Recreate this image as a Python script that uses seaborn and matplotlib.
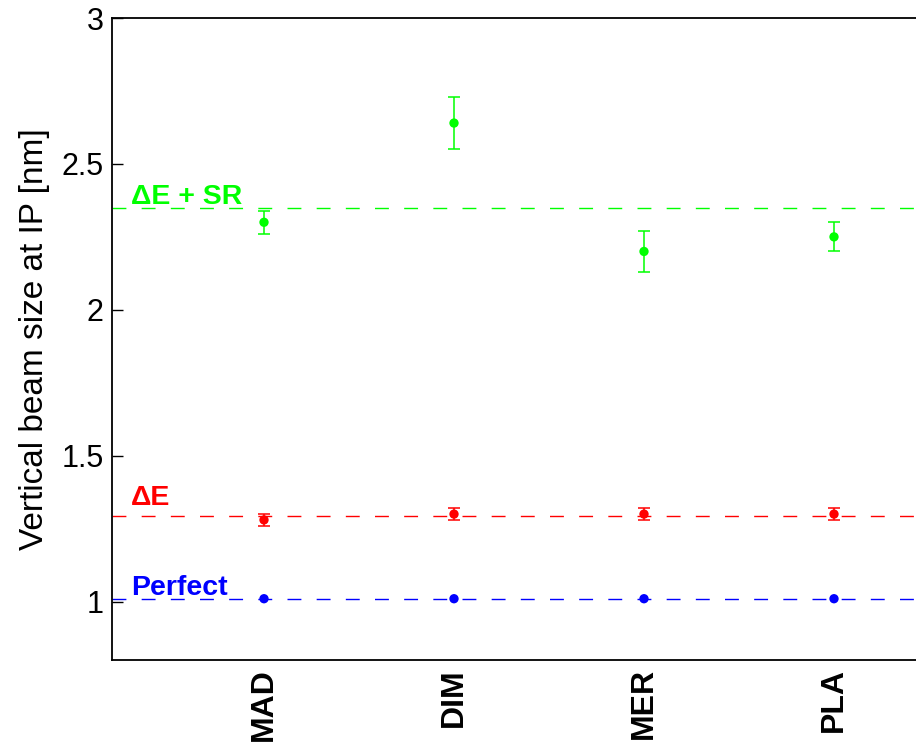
import matplotlib
matplotlib.use("Agg")
import matplotlib.pyplot as plt
import seaborn as sns
import pandas as pd
import numpy as np

categories = ["MAD", "DIM", "MER", "PLA"]
perfect = [1.01, 1.01, 1.01, 1.01]
perfect_err = [0.0, 0.0, 0.0, 0.0]
de = [1.28, 1.30, 1.30, 1.30]
de_err = [0.02, 0.02, 0.02, 0.02]
de_sr = [2.30, 2.64, 2.20, 2.25]
de_sr_err = [0.04, 0.09, 0.07, 0.05]
ref_lines = {"Perfect": 1.01, "ΔE": 1.295, "ΔE + SR": 2.35}
series_names = ["Perfect", "ΔE", "ΔE + SR"]
colors = {"Perfect": "#0000ff", "ΔE": "#ff0000", "ΔE + SR": "#00ff00"}
yticks = [1, 1.5, 2, 2.5, 3]
ytick_labels = ["1", "1.5", "2", "2.5", "3"]

sns.set_style("white")
plt.rcParams["font.family"] = ["Liberation Sans", "DejaVu Sans"]
plt.rcParams["text.color"] = "black"
plt.rcParams["axes.labelcolor"] = "black"
plt.rcParams["xtick.color"] = "black"
plt.rcParams["ytick.color"] = "black"

rows = []
for name, vals, errs in [("Perfect", perfect, perfect_err), ("ΔE", de, de_err), ("ΔE + SR", de_sr, de_sr_err)]:
    for i, (c, v, e) in enumerate(zip(categories, vals, errs)):
        rows.append({"series": name, "cat": c, "x": i + 1, "y": v, "err": e})
df = pd.DataFrame(rows)

fig = plt.figure(figsize=(9.16, 7.52), dpi=100)
ax = fig.add_axes([112 / 916, 92 / 752, 874 / 916, 642 / 752])

for name in series_names:
    ax.axhline(ref_lines[name], color=colors[name], lw=1.0, dashes=(10, 11), zorder=1)
    sub = df[df.series == name]
    nz = sub[sub.err > 0]
    if len(nz):
        ax.errorbar(nz.x, nz.y, yerr=nz.err, fmt="none", ecolor=colors[name],
                    elinewidth=1.1, capsize=4, capthick=1.1, zorder=2)

sns.scatterplot(data=df, x="x", y="y", hue="series", palette=colors, s=45,
                edgecolor="none", legend=False, ax=ax, zorder=3)

label_pos = {"Perfect": 1.024, "ΔE": 1.331, "ΔE + SR": 2.362}
for name in series_names:
    ax.text(0.30, label_pos[name], name, color=colors[name], fontsize=20.5,
            fontweight="bold", ha="left", va="baseline")

ax.set_xlim(0.2, 4.8)
ax.set_ylim(0.8, 3.0)
ax.set_xticks(range(1, len(categories) + 1))
ax.set_xticklabels(categories, rotation=90, fontsize=23, fontweight="bold")
ax.set_yticks(yticks)
ax.set_yticklabels(ytick_labels, fontsize=22)
ax.tick_params(axis="y", direction="in", length=8, width=1, left=True, pad=6)
ax.tick_params(axis="x", length=0, pad=6)
ax.set_xlabel("")
ax.set_ylabel("Vertical beam size at IP [nm]", fontsize=24, labelpad=8)
for s in ["left", "bottom", "top"]:
    ax.spines[s].set_color("black")
    ax.spines[s].set_linewidth(1.3)
ax.spines["right"].set_visible(False)

fig.savefig("out.png", dpi=100)
